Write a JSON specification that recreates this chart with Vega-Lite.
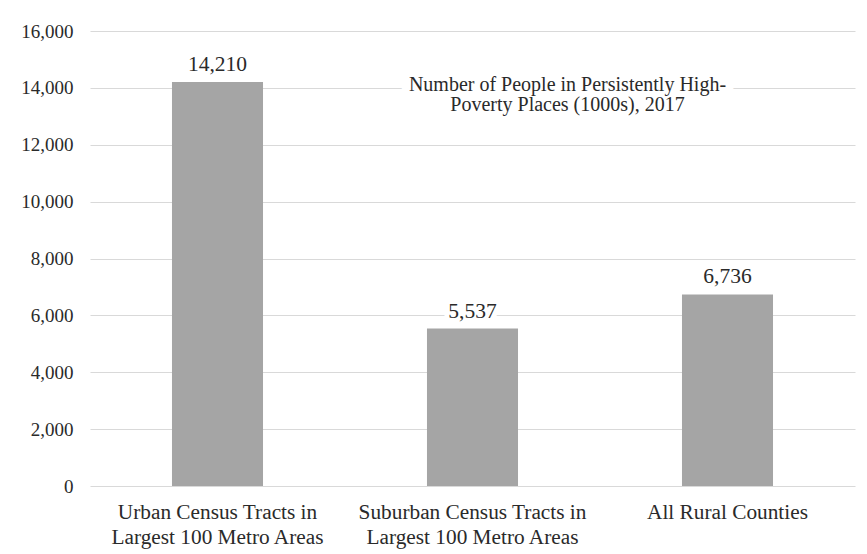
{
  "$schema": "https://vega.github.io/schema/vega-lite/v6.json",
  "width": 765,
  "height": 455,
  "autosize": {"type": "none"},
  "padding": {"left": 90, "top": 31, "right": 12, "bottom": 68},
  "background": "white",
  "config": {
    "view": {"stroke": null},
    "font": "Liberation Serif",
    "text": {"font": "Liberation Serif"},
    "axis": {"labelFont": "Liberation Serif"}
  },
  "datasets": {
    "places": [
      {"place": "Urban Census Tracts in Largest 100 Metro Areas", "people": 14210},
      {"place": "Suburban Census Tracts in Largest 100 Metro Areas", "people": 5537},
      {"place": "All Rural Counties", "people": 6736}
    ],
    "heading": [
      {"place": "Suburban Census Tracts in Largest 100 Metro Areas", "level": 14000, "note": "Number of People in Persistently  High-\nPoverty Places (1000s), 2017"}
    ]
  },
  "layer": [
    {
      "data": {"name": "places"},
      "mark": {"type": "bar", "color": "#a5a5a5"},
      "encoding": {
        "x": {
          "field": "place",
          "type": "nominal",
          "scale": {
            "domain": [
              "Urban Census Tracts in Largest 100 Metro Areas",
              "Suburban Census Tracts in Largest 100 Metro Areas",
              "All Rural Counties"
            ],
            "paddingInner": 0.643,
            "paddingOuter": 0.3215
          },
          "axis": {
            "title": null,
            "labelAngle": 0,
            "domain": false,
            "ticks": false,
            "labelFontSize": 21.3,
            "labelColor": "#2a2a2a",
            "labelPadding": 15,
            "labelLineHeight": 25,
            "labelLimit": 400,
            "labelExpr": "indexof(datum.label, ' in ') > 0 ? [substring(datum.label, 0, indexof(datum.label, ' in ') + 3), substring(datum.label, indexof(datum.label, ' in ') + 4)] : datum.label"
          }
        },
        "y": {
          "field": "people",
          "type": "quantitative",
          "scale": {"domain": [0, 16000], "nice": false},
          "axis": {
            "title": null,
            "values": [0, 2000, 4000, 6000, 8000, 10000, 12000, 14000, 16000],
            "format": ",d",
            "domain": false,
            "ticks": false,
            "grid": true,
            "gridColor": "#d9d9d9",
            "gridWidth": 1,
            "labelFontSize": 19,
            "labelColor": "#2a2a2a",
            "labelPadding": 17
          }
        }
      }
    },
    {
      "data": {"name": "places"},
      "mark": {
        "type": "text",
        "baseline": "middle",
        "dy": -17,
        "fontSize": 21.5,
        "stroke": "white",
        "strokeWidth": 10,
        "strokeJoin": "round",
        "color": "white"
      },
      "encoding": {
        "x": {"field": "place", "type": "nominal"},
        "y": {"field": "people", "type": "quantitative"},
        "text": {"field": "people", "type": "quantitative", "format": ",d"}
      }
    },
    {
      "data": {"name": "places"},
      "mark": {
        "type": "text",
        "baseline": "middle",
        "dy": -17,
        "fontSize": 21.5,
        "color": "#2a2a2a"
      },
      "encoding": {
        "x": {"field": "place", "type": "nominal"},
        "y": {"field": "people", "type": "quantitative"},
        "text": {"field": "people", "type": "quantitative", "format": ",d"}
      }
    },
    {
      "data": {"name": "heading"},
      "mark": {
        "type": "text",
        "baseline": "alphabetic",
        "lineBreak": "\n",
        "lineHeight": 20.5,
        "dx": 95,
        "dy": 3,
        "fontSize": 20,
        "stroke": "white",
        "strokeWidth": 16,
        "strokeJoin": "round",
        "color": "white"
      },
      "encoding": {
        "x": {"field": "place", "type": "nominal"},
        "y": {"field": "level", "type": "quantitative"},
        "text": {"field": "note"}
      }
    },
    {
      "data": {"name": "heading"},
      "mark": {
        "type": "text",
        "baseline": "alphabetic",
        "lineBreak": "\n",
        "lineHeight": 20.5,
        "dx": 95,
        "dy": 3,
        "fontSize": 20,
        "color": "#2a2a2a"
      },
      "encoding": {
        "x": {"field": "place", "type": "nominal"},
        "y": {"field": "level", "type": "quantitative"},
        "text": {"field": "note"}
      }
    }
  ]
}
